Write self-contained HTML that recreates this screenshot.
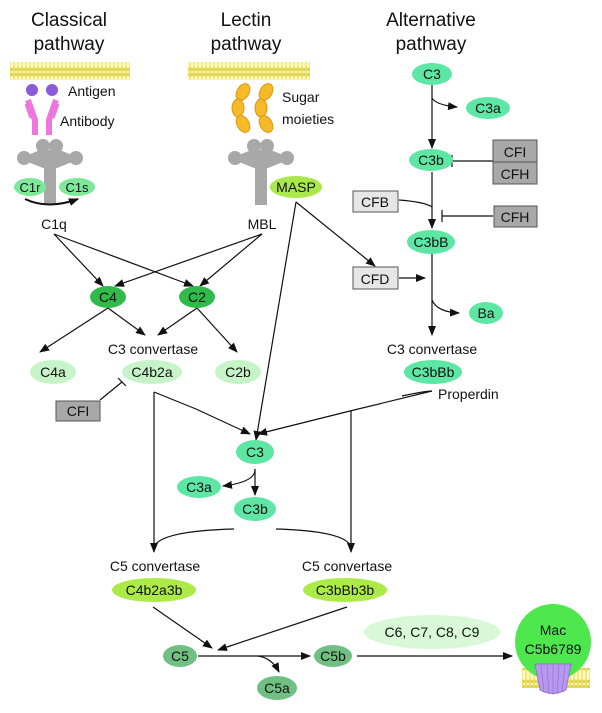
<!DOCTYPE html>
<html><head><meta charset="utf-8"><style>
html,body{margin:0;padding:0;background:#fff}
svg{display:block}
text{font-family:"Liberation Sans",sans-serif;fill:#111}
</style></head><body>
<svg width="602" height="713" viewBox="0 0 602 713" xmlns="http://www.w3.org/2000/svg">
<defs>
<marker id="a" markerWidth="10" markerHeight="8" refX="9" refY="4" orient="auto" markerUnits="userSpaceOnUse"><path d="M0,0 L10,4 L0,8 Z" fill="#111"/></marker>
<pattern id="mem" width="4" height="18" patternUnits="userSpaceOnUse"><rect width="4" height="18" fill="#fffbb0"/><circle cx="2" cy="2.5" r="1.8" fill="#f0e060" stroke="#c8b830" stroke-width="0.5"/><circle cx="2" cy="15.5" r="1.8" fill="#f0e060" stroke="#c8b830" stroke-width="0.5"/><line x1="2" y1="4" x2="2" y2="14" stroke="#d8d070" stroke-width="0.8"/></pattern>
</defs>
<g font-size="19" text-anchor="middle">
<text x="69" y="26">Classical</text><text x="69" y="50">pathway</text>
<text x="246" y="26">Lectin</text><text x="246" y="50">pathway</text>
<text x="431" y="26">Alternative</text><text x="431" y="50">pathway</text>
</g>
<rect x="10" y="62" width="120" height="18" fill="url(#mem)"/>
<rect x="188" y="62" width="122" height="18" fill="url(#mem)"/>
<!-- antibody -->
<circle cx="32" cy="90" r="6" fill="#8a5ad8"/><circle cx="52" cy="90" r="6" fill="#8a5ad8"/>
<path d="M28,100 L35,120 L35,135 M56,100 L49,120 L49,135" stroke="#ee77dd" stroke-width="6" fill="none"/>
<path d="M26,104 L31,118 M58,104 L53,118" stroke="#ee77dd" stroke-width="3" fill="none"/>
<text x="68" y="96" font-size="14">Antigen</text>
<text x="60" y="126" font-size="14">Antibody</text>
<!-- sugar -->
<g fill="#f5b92a" stroke="#d89a10" stroke-width="1">
<ellipse cx="243" cy="92" rx="6" ry="9" transform="rotate(30 243 92)"/><ellipse cx="238" cy="108" rx="6" ry="9"/><ellipse cx="243" cy="124" rx="6" ry="9" transform="rotate(-30 243 124)"/>
<ellipse cx="266" cy="92" rx="6" ry="9" transform="rotate(30 266 92)"/><ellipse cx="261" cy="108" rx="6" ry="9"/><ellipse cx="266" cy="124" rx="6" ry="9" transform="rotate(-30 266 124)"/>
</g>
<text x="282" y="102" font-size="14">Sugar</text><text x="282" y="124" font-size="14">moieties</text>
<!-- C1q and MBL -->
<g fill="#a8a8a8">
<g id="q"><circle cx="43" cy="146" r="7"/><circle cx="56" cy="146" r="7"/><circle cx="24" cy="158" r="7"/><circle cx="76" cy="158" r="7"/>
<path d="M40,150 L48,150 L48,170 L28,162 L28,155 Z M52,150 L60,150 L72,155 L72,162 L52,170 Z"/><rect x="44" y="150" width="12" height="55"/></g>
<use href="#q" transform="translate(211,0)"/>
</g>
<ellipse cx="30" cy="187" rx="16" ry="9" fill="#7ee89a"/><text x="30" y="192" font-size="13" text-anchor="middle">C1r</text>
<ellipse cx="77" cy="187" rx="18" ry="9" fill="#7ee89a"/><text x="77" y="192" font-size="13" text-anchor="middle">C1s</text>
<path d="M25,199 Q48,210 78,199" stroke="#111" stroke-width="2" fill="none" marker-end="url(#a)"/>
<ellipse cx="296" cy="187" rx="26" ry="11" fill="#a8e84a"/><text x="296" y="192" font-size="14" text-anchor="middle">MASP</text>
<text x="54" y="229" font-size="14" text-anchor="middle">C1q</text>
<text x="262" y="229" font-size="14" text-anchor="middle">MBL</text>
<!-- lines -->
<g stroke="#111" stroke-width="1.2" fill="none" marker-end="url(#a)">
<line x1="54" y1="234" x2="103" y2="286"/><line x1="54" y1="234" x2="193" y2="286"/>
<line x1="262" y1="234" x2="115" y2="286"/><line x1="262" y1="234" x2="200" y2="286"/>
<line x1="296" y1="202" x2="256" y2="440"/><line x1="296" y1="202" x2="375" y2="266"/>
<line x1="108" y1="308" x2="40" y2="352"/><line x1="108" y1="308" x2="145" y2="335"/>
<line x1="197" y1="308" x2="158" y2="335"/><line x1="197" y1="308" x2="237" y2="352"/>
<polyline points="154,392 196,409 250,434"/>
<path d="M432,391 L350,411 L258,434"/>
<line x1="154" y1="392" x2="154" y2="552"/><line x1="351" y1="411" x2="351" y2="552"/>
<path d="M255,469 Q256,482 223,486" /><line x1="255" y1="469" x2="255" y2="495"/>
<line x1="432" y1="85" x2="432" y2="148"/><path d="M432,98 Q436,105 457,107"/>
<line x1="432" y1="172" x2="432" y2="228"/><line x1="432" y1="253" x2="432" y2="335"/>
<path d="M432,300 Q437,312 459,313"/>
<line x1="399" y1="278" x2="425" y2="278"/>
<line x1="153" y1="607" x2="212" y2="648"/><line x1="347" y1="607" x2="218" y2="650"/>
<line x1="198" y1="656" x2="310" y2="656"/><path d="M258,656 Q272,658 279,672"/>
<line x1="357" y1="656" x2="512" y2="656"/>
</g>
<g stroke="#111" stroke-width="1.2" fill="none">
<path d="M399,200 Q425,202 432,207"/>
<path d="M154,547 Q160,531 234,529"/><path d="M351,547 Q346,531 276,529"/>
<path d="M432,391 Q425,391 402,396"/>
<line x1="493" y1="161" x2="452" y2="161"/><line x1="452" y1="155" x2="452" y2="167"/>
<line x1="493" y1="216" x2="442" y2="216"/><line x1="442" y1="210" x2="442" y2="222"/>
<line x1="100" y1="400" x2="122" y2="382"/><line x1="118" y1="378" x2="126" y2="386"/>
</g>
<text x="438" y="399" font-size="14">Properdin</text>
<!-- boxes -->
<g stroke="#555" stroke-width="1">
<rect x="493" y="140" width="44" height="22" fill="#a8a8a8"/><rect x="493" y="162" width="44" height="22" fill="#a8a8a8"/>
<rect x="494" y="206" width="43" height="21" fill="#a8a8a8"/>
<rect x="353" y="191" width="45" height="21" fill="#e6e6e6"/>
<rect x="353" y="267" width="45" height="22" fill="#e6e6e6"/>
<rect x="56" y="401" width="44" height="20" fill="#a8a8a8"/>
</g>
<g font-size="14" text-anchor="middle">
<text x="515" y="157">CFI</text><text x="515" y="179">CFH</text><text x="515" y="222">CFH</text>
<text x="375" y="207">CFB</text><text x="375" y="284">CFD</text><text x="78" y="416">CFI</text>
</g>
<!-- nodes -->
<g>
<ellipse cx="432" cy="74" rx="20" ry="11" fill="#5ee6a4"/>
<ellipse cx="488" cy="108" rx="22" ry="11" fill="#5ee6a4"/>
<ellipse cx="431" cy="160" rx="22" ry="11" fill="#5ee6a4"/>
<ellipse cx="431" cy="242" rx="24" ry="12" fill="#5ee6a4"/>
<ellipse cx="486" cy="313" rx="17" ry="11" fill="#5ee6a4"/>
<ellipse cx="433" cy="372" rx="29" ry="12" fill="#5ee6a4"/>
<ellipse cx="255" cy="452" rx="19" ry="12" fill="#5ee6a4"/>
<ellipse cx="199" cy="487" rx="22" ry="11" fill="#5ee6a4"/>
<ellipse cx="255" cy="509" rx="21" ry="12" fill="#5ee6a4"/>
<ellipse cx="108" cy="297" rx="18" ry="11" fill="#2fba4a"/>
<ellipse cx="197" cy="297" rx="18" ry="11" fill="#2fba4a"/>
<ellipse cx="53" cy="372" rx="23" ry="12" fill="#c6f4c8"/>
<ellipse cx="152" cy="372" rx="30" ry="12" fill="#c6f4c8"/>
<ellipse cx="238" cy="372" rx="23" ry="12" fill="#c6f4c8"/>
<ellipse cx="154" cy="590" rx="42" ry="12" fill="#acea48"/>
<ellipse cx="345" cy="590" rx="42" ry="12" fill="#acea48"/>
<ellipse cx="180" cy="656" rx="17" ry="11" fill="#70c084"/>
<ellipse cx="333" cy="656" rx="19" ry="11" fill="#70c084"/>
<ellipse cx="277" cy="688" rx="20" ry="12" fill="#70c084"/>
<ellipse cx="432" cy="632" rx="68" ry="17" fill="#d8f8d8"/>
</g>
<g font-size="14" text-anchor="middle">
<text x="432" y="79">C3</text><text x="488" y="113">C3a</text><text x="431" y="165">C3b</text>
<text x="431" y="247">C3bB</text><text x="486" y="318">Ba</text>
<text x="432" y="354">C3 convertase</text><text x="433" y="377">C3bBb</text>
<text x="255" y="457">C3</text><text x="199" y="492">C3a</text><text x="255" y="514">C3b</text>
<text x="108" y="302">C4</text><text x="197" y="302">C2</text>
<text x="153" y="354">C3 convertase</text>
<text x="53" y="377">C4a</text><text x="152" y="377">C4b2a</text><text x="238" y="377">C2b</text>
<text x="155" y="571">C5 convertase</text><text x="347" y="571">C5 convertase</text>
<text x="154" y="595">C4b2a3b</text><text x="345" y="595">C3bBb3b</text>
<text x="180" y="661">C5</text><text x="333" y="661">C5b</text><text x="277" y="693">C5a</text>
<text x="432" y="637">C6, C7, C8, C9</text>
</g>
<!-- MAC -->
<rect x="522" y="668" width="68" height="20" fill="url(#mem)"/>
<circle cx="553" cy="642" r="38" fill="#4ee84e"/>
<text x="553" y="635" font-size="14" text-anchor="middle">Mac</text>
<text x="553" y="654" font-size="14" text-anchor="middle">C5b6789</text>
<path d="M535,664 L571,664 L566,690 Q553,697 540,690 Z" fill="#b898ee" stroke="#8a6ad0" stroke-width="0.8"/>
<g stroke="#8a6ad0" stroke-width="0.6"><line x1="541" y1="665" x2="544" y2="692"/><line x1="547" y1="665" x2="549" y2="694"/><line x1="553" y1="665" x2="553" y2="695"/><line x1="559" y1="665" x2="557" y2="694"/><line x1="565" y1="665" x2="562" y2="692"/></g>
</svg>
</body></html>
